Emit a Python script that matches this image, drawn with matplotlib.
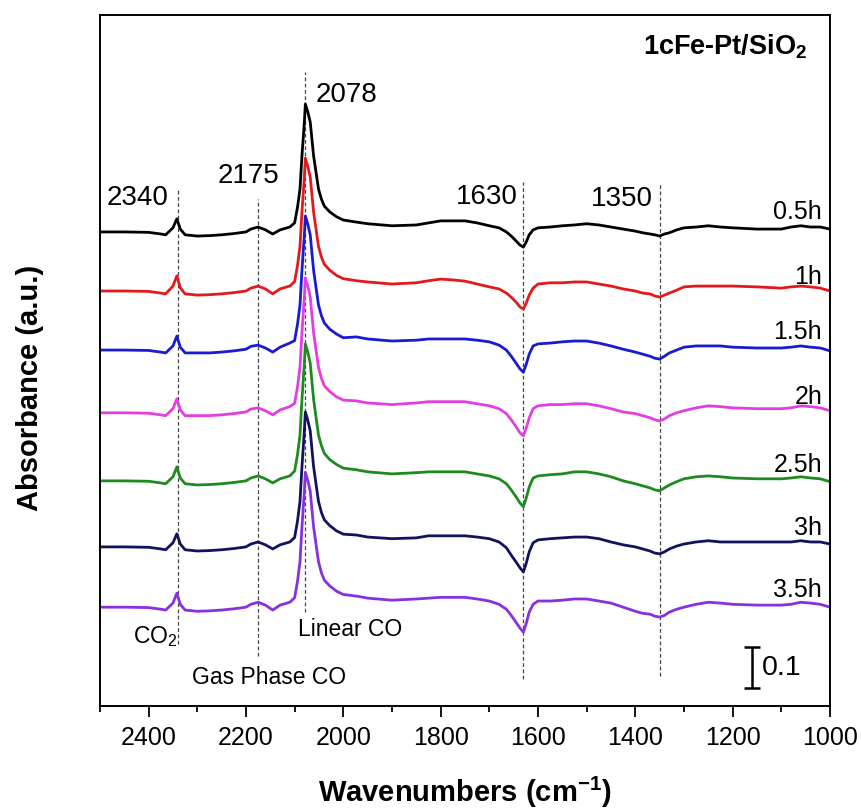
import matplotlib
matplotlib.use("Agg")
import matplotlib.pyplot as plt
import numpy as np
from matplotlib.ticker import MultipleLocator

plt.rcParams["font.family"] = ["Liberation Sans", "DejaVu Sans"]
plt.rcParams["mathtext.fontset"] = "custom"
plt.rcParams["mathtext.rm"] = "Liberation Sans"
plt.rcParams["mathtext.it"] = "Liberation Sans:italic"
plt.rcParams["mathtext.bf"] = "Liberation Sans:bold"

# wavenumber grid (cm-1) shared by all spectra
wavenumbers = [2500, 2450, 2400, 2375, 2365, 2350, 2342, 2335, 2325, 2300,
               2275, 2250, 2225, 2200, 2190, 2175, 2160, 2145, 2130, 2110,
               2100, 2094, 2089, 2085, 2080, 2078, 2073, 2068, 2061, 2051,
               2045, 2039, 2028, 2014, 2000,
               1973, 1950, 1900, 1850, 1825, 1800, 1775, 1750, 1725,
               1700, 1680, 1665, 1655, 1645, 1637, 1630, 1624, 1618, 1610, 1600,
               1575, 1550, 1525, 1500, 1475, 1450, 1425, 1400, 1385, 1370,
               1360, 1350, 1340, 1330, 1315, 1300, 1275,
               1250, 1225, 1200, 1150, 1100, 1080, 1060, 1040, 1020, 1000]

# absorbance of each spectrum, in 1e-3 a.u., before stacking
abs_05h = [0, 0, -1, -5, -7, 10, 32, 7, -7, -10, -9, -7, -4, 0, 7, 12, 5, -5, 5, 12,
           22, 61, 105, 185, 268, 312, 293, 268, 185, 105, 80, 63, 49, 37, 29,
           24, 20, 15, 17, 22, 27, 27, 27, 22,
           15, 10, 0, -10, -22, -32, -37, -24, -7, 5, 10,
           12, 15, 17, 20, 17, 12, 7, 2, -2, -5, -7, -10, -5, -2, 5, 10, 12,
           15, 12, 10, 7, 7, 12, 15, 12, 12, 7]
abs_1h = [0, 0, -1, -5, -7, 12, 37, 8, -7, -10, -9, -7, -4, 0, 7, 12, 5, -7, 5, 12,
          23, 63, 109, 192, 278, 324, 304, 278, 192, 109, 83, 65, 51, 38, 30,
          25, 22, 17, 20, 25, 29, 27, 24, 17,
          10, 5, -5, -15, -27, -39, -44, -29, -10, 7, 17,
          20, 20, 22, 22, 17, 12, 5, 0, -5, -7, -12, -15, -10, -5, 2, 10, 12,
          12, 12, 12, 10, 7, 10, 12, 10, 7, 0]
abs_15h = [0, 0, -1, -5, -7, 10, 34, 7, -7, -7, -7, -5, -2, 2, 9, 12, 5, -5, 7, 17,
           23, 64, 110, 194, 281, 327, 307, 281, 194, 110, 84, 66, 51, 39, 30,
           32, 27, 22, 24, 27, 27, 27, 27, 24,
           20, 12, 0, -15, -32, -46, -54, -34, -10, 10, 15,
           17, 20, 22, 22, 17, 10, 2, -5, -10, -15, -20, -22, -15, -7, 0, 7, 10,
           10, 10, 7, 5, 5, 7, 10, 7, 5, -2]
abs_2h = [0, 0, -1, -5, -7, 10, 34, 7, -7, -7, -7, -5, -2, 2, 9, 12, 5, -5, 7, 15,
          23, 64, 111, 195, 283, 329, 309, 283, 195, 111, 84, 66, 52, 39, 31,
          29, 24, 20, 24, 27, 27, 27, 27, 22,
          17, 10, -2, -17, -34, -49, -56, -37, -12, 10, 17,
          20, 20, 22, 22, 17, 10, 2, -2, -7, -12, -17, -20, -15, -7, 0, 5, 12,
          17, 15, 12, 10, 10, 12, 17, 15, 12, 5]
abs_25h = [0, 0, -1, -5, -7, 10, 34, 7, -7, -10, -9, -7, -4, 0, 7, 12, 5, -5, 5, 12,
           24, 65, 112, 198, 287, 334, 314, 287, 198, 112, 86, 67, 52, 40, 31,
           27, 22, 17, 20, 22, 22, 22, 22, 17,
           12, 5, -7, -22, -39, -54, -63, -41, -15, 7, 12,
           15, 17, 22, 22, 17, 10, 0, -7, -12, -17, -22, -24, -17, -10, -2, 5, 10,
           12, 10, 7, 5, 5, 7, 10, 7, 5, -2]
abs_3h = [0, 0, -1, -5, -7, 10, 32, 7, -7, -10, -9, -7, -4, 0, 7, 12, 5, -5, 5, 12,
          23, 64, 111, 195, 283, 329, 309, 283, 195, 111, 84, 66, 52, 39, 31,
          29, 24, 20, 22, 27, 27, 27, 27, 24,
          20, 12, -2, -20, -37, -51, -61, -39, -12, 10, 17,
          20, 22, 24, 24, 20, 12, 5, 0, -5, -10, -15, -17, -12, -5, 2, 7, 12,
          15, 12, 12, 12, 12, 12, 15, 12, 12, 7]
abs_35h = [0, 0, -1, -5, -7, 10, 34, 7, -7, -10, -9, -7, -4, 0, 7, 12, 5, -7, 5, 12,
           23, 64, 111, 195, 283, 329, 309, 283, 195, 111, 84, 66, 52, 39, 31,
           27, 22, 17, 20, 22, 24, 24, 24, 20,
           15, 7, -5, -20, -37, -51, -61, -39, -12, 7, 15,
           15, 17, 20, 20, 15, 10, 0, -10, -15, -17, -22, -24, -20, -12, -5, 0, 7,
           12, 10, 7, 5, 5, 7, 12, 10, 7, 0]

spectra = [abs_05h, abs_1h, abs_15h, abs_2h, abs_25h, abs_3h, abs_35h]
time_labels = ["0.5h", "1h", "1.5h", "2h", "2.5h", "3h", "3.5h"]
stack_offsets = [1.156, 1.012, 0.868, 0.715, 0.549, 0.388, 0.241]
label_offsets = [0.051, 0.037, 0.047, 0.041, 0.041, 0.049, 0.044]
colors = ["#000000", "#e3191c", "#1a1ad2", "#e23ee2", "#1f8a1f", "#12125e", "#8730e0"]

# marked bands: (position, line bottom, line top, label, label x, label y)
bands = [(2340, 0.151, 1.261, "2340", 2422, 1.241),
         (2175, 0.122, 1.237, "2175", 2194, 1.295),
         (2078, 0.229, 1.546, "2078", 1993, 1.493),
         (1630, 0.066, 1.278, "1630", 1705, 1.244),
         (1350, 0.073, 1.273, "1350", 1428, 1.239)]

fig = plt.figure(figsize=(8.61, 8.12), dpi=100)
ax = fig.add_axes([0.1161, 0.1293, 0.8479, 0.8510])

for pos, y0, y1, txt, tx, ty in bands:
    ax.vlines(pos, y0, y1, colors="#444444", linestyles=(0, (3, 2)), linewidth=0.9, zorder=1)
    ax.text(tx, ty, txt, fontsize=20, ha="center", va="center")

wn = np.array(wavenumbers)
for vals, lab, off, loff, col in zip(spectra, time_labels, stack_offsets, label_offsets, colors):
    ax.plot(wn, np.array(vals) / 1000.0 + off, color=col, linewidth=2.0,
            solid_joinstyle="round", zorder=2)
    ax.text(1016, off + loff, lab, fontsize=18, ha="right", va="center")

ax.text(1046, 1.610, r"1cFe-Pt/SiO$_\mathbf{2}$", fontsize=19.5, fontweight="bold",
        ha="right", va="center")
ax.text(2387, 0.171, r"CO$_2$", fontsize=16.5, ha="center", va="center")
ax.text(1987, 0.188, "Linear CO", fontsize=16.5, ha="center", va="center")
ax.text(2153, 0.071, "Gas Phase CO", fontsize=16.5, ha="center", va="center")

# 0.1 a.u. scale bar
ax.errorbar([1161], [0.094], yerr=[[0.05], [0.05]], fmt="none", ecolor="black",
            elinewidth=1.8, capsize=6, capthick=1.8)
ax.text(1139, 0.095, "0.1", fontsize=20.5, ha="left", va="center")

ax.set_xlim(2500, 1000)
ax.set_ylim(0, 1.685)
ax.set_yticks([])
ax.xaxis.set_major_locator(MultipleLocator(200))
ax.xaxis.set_minor_locator(MultipleLocator(100))
ax.tick_params(axis="x", which="major", direction="out", length=8, width=1.3,
               labelsize=18, pad=6)
ax.tick_params(axis="x", which="minor", direction="out", length=4.5, width=1.3)
for sp in ax.spines.values():
    sp.set_linewidth(1.4)

ax.set_xlabel(r"Wavenumbers (cm$^{\mathbf{-1}}$)", fontsize=21, fontweight="bold")
ax.xaxis.set_label_coords(0.5, -0.123)
ax.xaxis.label.set_verticalalignment("center")
ax.set_ylabel("Absorbance (a.u.)", fontsize=21, fontweight="bold")
ax.yaxis.set_label_coords(-0.096, 0.462)
ax.yaxis.label.set_verticalalignment("center")

fig.savefig("out.png", dpi=100)
plt.close(fig)
